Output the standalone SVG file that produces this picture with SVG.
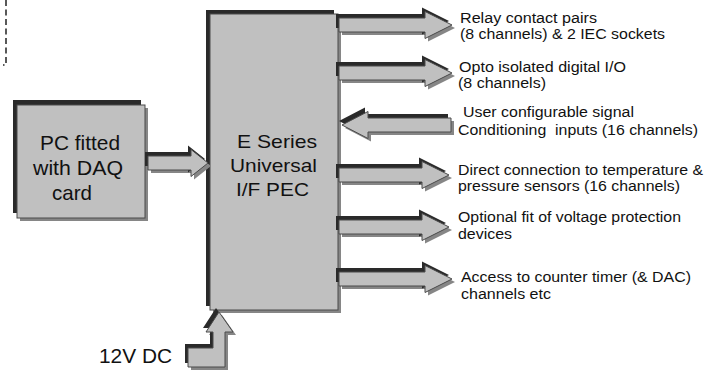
<svg xmlns="http://www.w3.org/2000/svg" xmlns:xlink="http://www.w3.org/1999/xlink" width="718" height="371" viewBox="0 0 718 371">
<style>
.sh{fill:#868686;stroke:none}
.dk{fill:#2a2a2a;stroke:none}
.fl{fill:#c0c0c0;stroke:#4a4a4a;stroke-width:1}
.t{font-family:"Liberation Sans",Arial,sans-serif;fill:#111}
.lbl{font-size:14px}
.big{font-size:21px}
.mid{font-size:19px}
.dash{fill:none;stroke:#222;stroke-width:1.5;stroke-dasharray:6,3.5}
</style>
<defs>
<rect id="mainR" x="210" y="14" width="128" height="296"/>
<rect id="pcR" x="17" y="105" width="128" height="113"/>
<path id="a1" d="M339,18 H425 V11.5 L452,25 L425,38.5 V32 H339 Z"/>
<path id="a2" d="M339,66 H425 V59.5 L452,73 L425,86.5 V80 H339 Z"/>
<path id="a3" d="M451,118 H368 V111.5 L342,125 L368,138.5 V132 H451 Z"/>
<path id="a4" d="M339,168 H422 V161.5 L449,175 L422,188.5 V182 H339 Z"/>
<path id="a5" d="M339,220 H422 V213.5 L449,227 L422,240.5 V234 H339 Z"/>
<path id="a6" d="M339,272 H425 V265.5 L452,279 L425,292.5 V286 H339 Z"/>
<path id="a7" d="M148,156 H191 V149.5 L208,163 L191,176.5 V170 H148 Z"/>
<path id="a8" d="M188,348 H213 V332 H206 L219,312 L233,332 H225 V367 H188 Z"/>
</defs>
<path class="dash" d="M6,0 V65 H3"/>
<g id="pc">
<use xlink:href="#pcR" class="sh" transform="translate(3,3)"/>
<use xlink:href="#pcR" class="dk" transform="translate(-4,-5)"/>
<use xlink:href="#pcR" class="fl"/>
<text class="t big" x="40" y="150" textLength="80" lengthAdjust="spacingAndGlyphs">PC fitted</text>
<text class="t big" x="33" y="175" textLength="90" lengthAdjust="spacingAndGlyphs">with DAQ</text>
<text class="t big" x="52" y="200" textLength="40" lengthAdjust="spacingAndGlyphs">card</text>
</g>
<g id="pec">
<use xlink:href="#mainR" class="sh" transform="translate(3,3)"/>
<use xlink:href="#mainR" class="dk" transform="translate(-4,-4)"/>
<use xlink:href="#mainR" class="fl"/>
<text class="t mid" x="237" y="148" textLength="80" lengthAdjust="spacingAndGlyphs">E Series</text>
<text class="t mid" x="230" y="172" textLength="87" lengthAdjust="spacingAndGlyphs">Universal</text>
<text class="t mid" x="236" y="196" textLength="73" lengthAdjust="spacingAndGlyphs">I/F PEC</text>
</g>
<g id="connectors">
<g id="c1"><use xlink:href="#a1" class="sh" transform="translate(3,3)"/><use xlink:href="#a1" class="dk" transform="translate(-3,-4)"/><use xlink:href="#a1" class="fl"/></g>
<g id="c2"><use xlink:href="#a2" class="sh" transform="translate(3,3)"/><use xlink:href="#a2" class="dk" transform="translate(-3,-4)"/><use xlink:href="#a2" class="fl"/></g>
<g id="c3"><use xlink:href="#a3" class="sh" transform="translate(3,3)"/><use xlink:href="#a3" class="dk" transform="translate(-3,-4)"/><use xlink:href="#a3" class="fl"/></g>
<g id="c4"><use xlink:href="#a4" class="sh" transform="translate(3,3)"/><use xlink:href="#a4" class="dk" transform="translate(-3,-4)"/><use xlink:href="#a4" class="fl"/></g>
<g id="c5"><use xlink:href="#a5" class="sh" transform="translate(3,3)"/><use xlink:href="#a5" class="dk" transform="translate(-3,-4)"/><use xlink:href="#a5" class="fl"/></g>
<g id="c6"><use xlink:href="#a6" class="sh" transform="translate(3,3)"/><use xlink:href="#a6" class="dk" transform="translate(-3,-4)"/><use xlink:href="#a6" class="fl"/></g>
<g id="c7"><use xlink:href="#a7" class="sh" transform="translate(3,3)"/><use xlink:href="#a7" class="dk" transform="translate(-3,-4)"/><use xlink:href="#a7" class="fl"/></g>
<g id="c8"><use xlink:href="#a8" class="sh" transform="translate(3,3)"/><use xlink:href="#a8" class="dk" transform="translate(-3,-4)"/><use xlink:href="#a8" class="fl"/></g>
</g>
<g id="labels">
<text class="t lbl" x="460" y="23" textLength="137" lengthAdjust="spacingAndGlyphs">Relay contact pairs</text>
<text class="t lbl" x="460" y="39" textLength="205" lengthAdjust="spacingAndGlyphs">(8 channels) &amp; 2 IEC sockets</text>
<text class="t lbl" x="459" y="72" textLength="167" lengthAdjust="spacingAndGlyphs">Opto isolated digital I/O</text>
<text class="t lbl" x="458" y="88" textLength="88" lengthAdjust="spacingAndGlyphs">(8 channels)</text>
<text class="t lbl" x="463" y="117" textLength="171" lengthAdjust="spacingAndGlyphs">User configurable signal</text>
<text class="t lbl" x="458" y="135" textLength="240" lengthAdjust="spacingAndGlyphs" xml:space="preserve">Conditioning  inputs (16 channels)</text>
<text class="t lbl" x="458" y="175" textLength="245" lengthAdjust="spacingAndGlyphs">Direct connection to temperature &amp;</text>
<text class="t lbl" x="458" y="191" textLength="222" lengthAdjust="spacingAndGlyphs">pressure sensors (16 channels)</text>
<text class="t lbl" x="458" y="222" textLength="223" lengthAdjust="spacingAndGlyphs">Optional fit of voltage protection</text>
<text class="t lbl" x="458" y="239" textLength="54" lengthAdjust="spacingAndGlyphs">devices</text>
<text class="t lbl" x="461" y="282" textLength="230" lengthAdjust="spacingAndGlyphs">Access to counter timer (&amp; DAC)</text>
<text class="t lbl" x="461" y="299" textLength="90" lengthAdjust="spacingAndGlyphs">channels etc</text>
<text class="t big" x="99" y="363" textLength="73" lengthAdjust="spacingAndGlyphs">12V DC</text>
</g>
</svg>
